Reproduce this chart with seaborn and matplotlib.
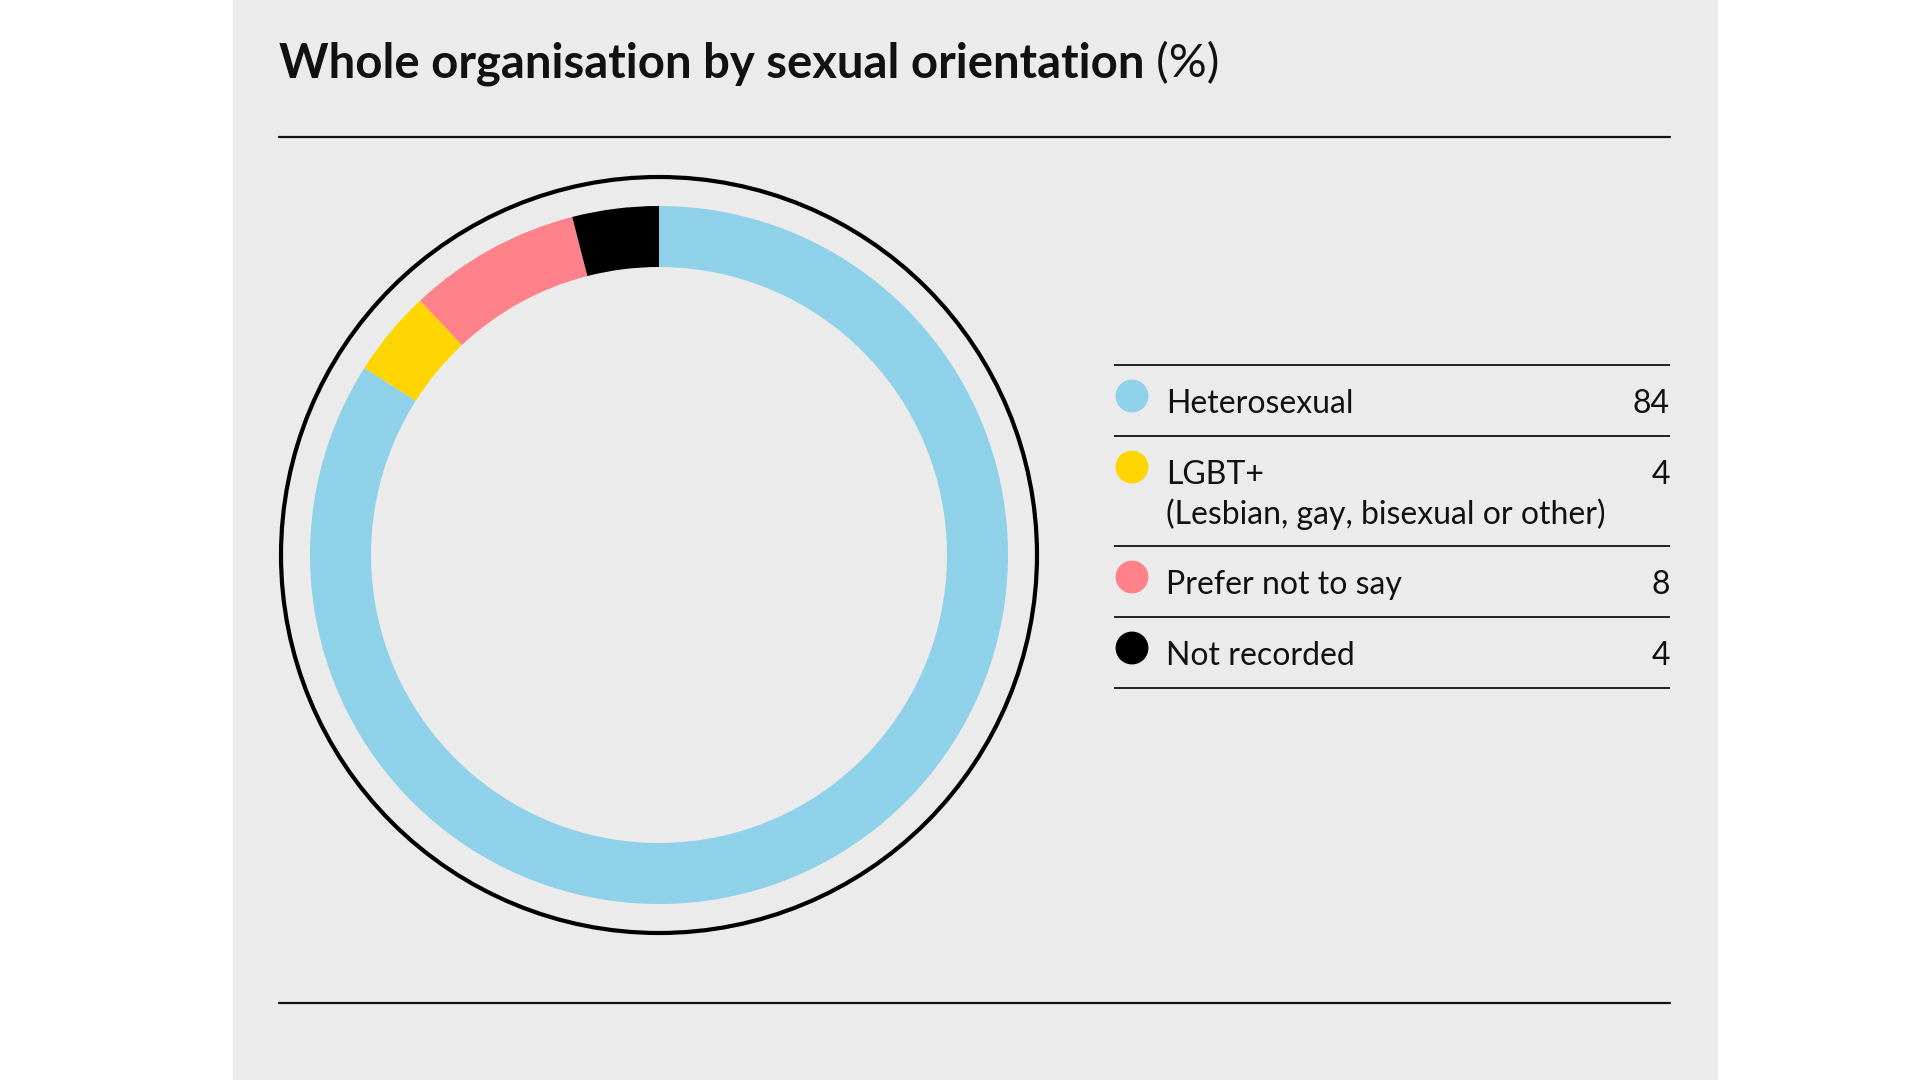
import matplotlib
matplotlib.use("Agg")
import matplotlib.pyplot as plt
import seaborn as sns
import pandas as pd
from matplotlib.patches import Rectangle, Circle
from matplotlib.lines import Line2D

# chart data
categories = ["Heterosexual", "LGBT+", "Prefer not to say", "Not recorded"]
shares = [84, 4, 8, 4]
sublabels = ["", "(Lesbian, gay, bisexual or other)", "", ""]
colors = ["#8ED1E8", "#FFD500", "#FF828A", "#000000"]

title_bold = "Whole organisation by sexual orientation"
title_unit = " (%)"

PANEL = "#EBEBEB"
W, H = 1920, 1080


def fx(px):
    return px / W


def fy(py):
    return 1 - py / H


sns.set_theme(style="white")
plt.rcParams['font.family'] = ['Lato', 'DejaVu Sans']

fig = plt.figure(figsize=(19.2, 10.8), dpi=100, facecolor="white")
fig.patches.append(Rectangle((fx(233), 0), fx(1717) - fx(233), 1,
                             transform=fig.transFigure, color=PANEL, zorder=-5))

# title, bold part then the unit in regular weight
t = fig.text(fx(279), fy(77), title_bold, fontsize=34, fontweight="bold",
             color="#111111", va="baseline", ha="left")
renderer = fig.canvas.get_renderer()
bb = t.get_window_extent(renderer=renderer)
fig.text(bb.x1 / W, fy(77), title_unit, fontsize=34, fontweight="normal",
         color="#111111", va="baseline", ha="left")

# horizontal rules
for y in [137, 1003]:
    fig.add_artist(Line2D([fx(279), fx(1670)], [fy(y), fy(y)], color="#111111", lw=1.6))

# donut
ax = fig.add_axes([fx(659 - 400), fy(555 + 400), 800 / W, 800 / H])
ax.pie(shares, colors=colors, startangle=90, counterclock=False, radius=349,
       wedgeprops=dict(width=61, linewidth=0))
ax.add_patch(Circle((0, 0), 378, fill=False, lw=3, ec="black"))
ax.set_xlim(-400, 400)
ax.set_ylim(-400, 400)
ax.set_aspect("equal")
ax.axis("off")

# legend table
row_edges = [365, 436, 546, 617, 688]
lx0, lx1 = 1114, 1670
lax = fig.add_axes([fx(lx0), fy(700), fx(lx1) - fx(lx0), (700 - 355) / H])
lax.set_xlim(lx0, lx1)
lax.set_ylim(700, 355)
lax.axis("off")

lax.hlines(row_edges, lx0, lx1, color="#222222", lw=1.4, clip_on=False)

legend_df = pd.DataFrame({
    "category": categories,
    "share": shares,
    "dot_x": [lx0 + 18] * len(categories),
    "dot_y": [e + 31 for e in row_edges[:-1]],
})
sns.scatterplot(data=legend_df, x="dot_x", y="dot_y", hue="category",
                palette=colors, s=560, linewidth=0, legend=False, ax=lax,
                clip_on=False)

for i, row in legend_df.iterrows():
    base = row_edges[i] + 48
    lax.text(lx0 + 52, base, row["category"], fontsize=23, fontweight="normal",
             color="#111111", va="baseline", ha="left")
    lax.text(lx1, base, str(row["share"]), fontsize=23, fontweight="normal",
             color="#111111", va="baseline", ha="right")
    if sublabels[i]:
        lax.text(lx0 + 52, base + 40, sublabels[i], fontsize=23, fontweight="normal",
                 color="#111111", va="baseline", ha="left")

fig.savefig("out.png", dpi=100, facecolor="white")
